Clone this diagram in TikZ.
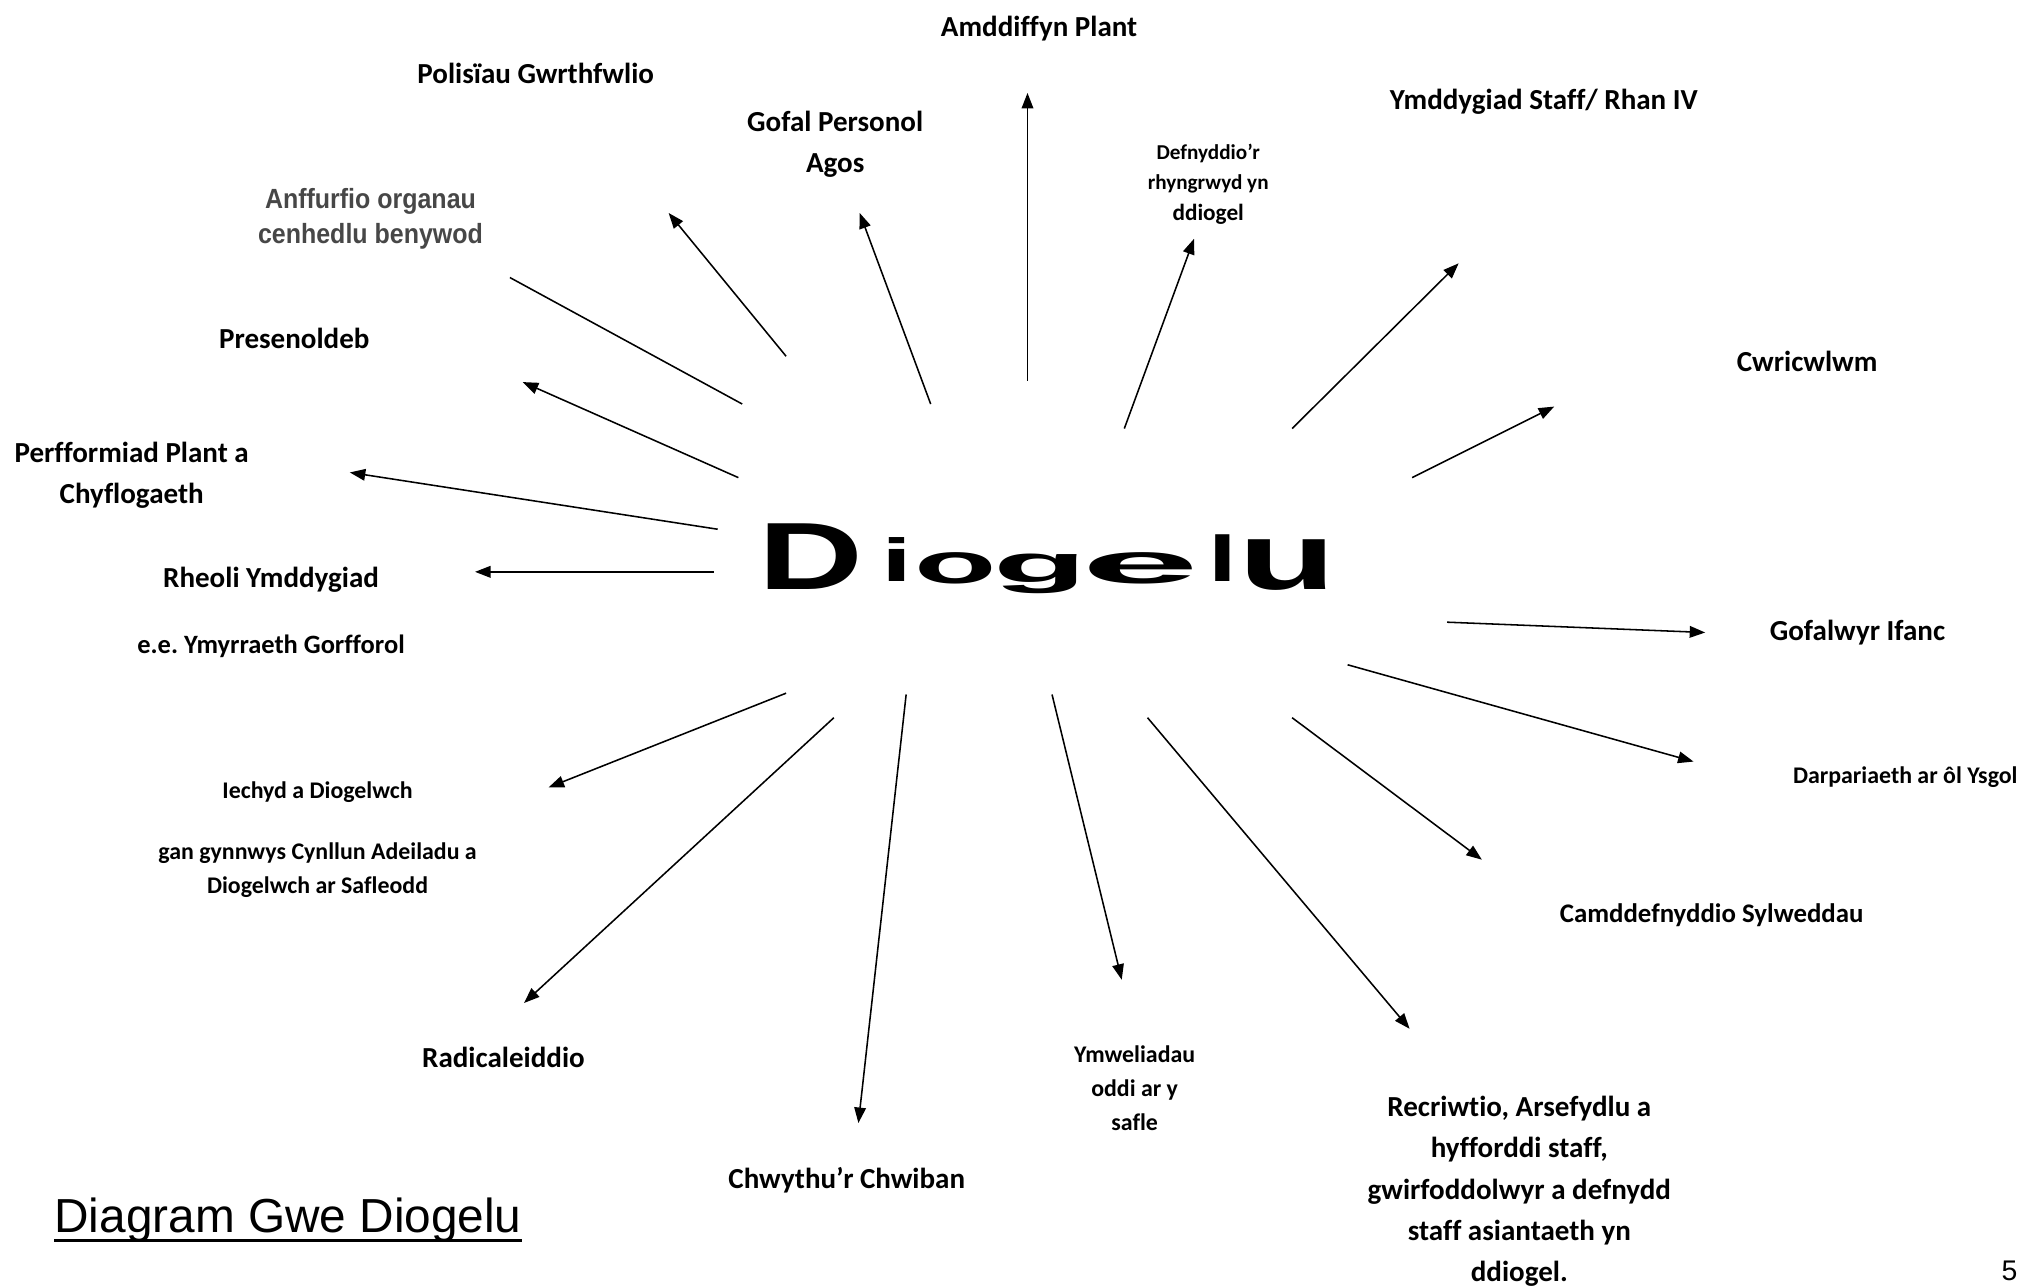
\documentclass[tikz,border=0pt]{standalone}
\usepackage{fontspec}
\usetikzlibrary{arrows.meta,calc}
\newfontfamily\calib[Ligatures=NoCommon]{Carlito}
\newfontfamily\arial{Liberation Sans}
\newfontfamily\anffont[FakeStretch=0.9]{Liberation Sans}
\newcommand\WA[4]{\makebox[0pt]{\raisebox{#3pt}{\scalebox{#1}[#2]{#4}}}}
\frenchspacing
\begin{document}
\begin{tikzpicture}[x=1pt,y=-1pt,
  lbl/.style={font={\calib\bfseries\fontsize{22.5}{32}\selectfont},align=center,inner sep=0pt},
  sml/.style={font={\calib\bfseries\fontsize{18.5}{26}\selectfont},align=center,inner sep=0pt},
  arr/.style={line width=1.2pt,-{Triangle[length=12pt,width=9pt]}},
  ln/.style={line width=1.2pt}]
\fill[white] (0,0) rectangle (1568,995.5);
\useasboundingbox (0,0) rectangle (1568,995.5);

% central word
\node[inner sep=0pt,anchor=base west] (dio) at (594,452)
 {\arial\bfseries\fontsize{50}{50}\selectfont\hspace*{34pt}\WA{2.25}{1.48}{-5}{D}\hspace*{67pt}\WA{1.73}{0.94}{1.5}{i}\hspace*{45pt}\WA{2.09}{0.89}{0}{o}\hspace*{66pt}\WA{2.38}{0.82}{1}{g}\hspace*{77.5pt}\WA{3.29}{0.89}{0}{e}\hspace*{63.5pt}\WA{1.6}{1.0}{1.4}{l}\hspace*{50.5pt}\WA{2.48}{1.46}{-5}{u}\hspace*{29.5pt}};

% labels
\node[lbl] (amd) at (805,22) {Amddiffyn Plant};
\node[lbl] (pol) at (415,57) {Polisïau Gwrthfwlio};
\node[lbl] (gof) at (647,112) {Gofal Personol\\Agos};
\node[align=center,inner sep=0pt,text=black!72,font={\anffont\bfseries\fontsize{21.5}{27}\selectfont}] (anf) at (287,169.5) {Anffurfio organau\\cenhedlu benywod};
\node[lbl] (pre) at (228,262) {Presenoldeb};
\node[lbl] (per) at (102,368) {Perfformiad Plant a\\Chyflogaeth};
\node[lbl] (rhe) at (210,449) {Rheoli Ymddygiad};
\node[lbl,font={\calib\bfseries\fontsize{20.5}{28}\selectfont}] (ee) at (210,501) {e.e. Ymyrraeth Gorfforol};
\node[sml] (iech) at (246,650.5) {Iechyd a Diogelwch\\[21pt]gan gynnwys Cynllun Adeiladu a\\Diogelwch ar Safleodd};
\node[lbl] (rad) at (390,819) {Radicaleiddio};
\node[lbl] (chw) at (656,914) {Chwythu’r Chwiban};
\node[sml] (ymw) at (879,843) {Ymweliadau\\oddi ar y\\safle};
\node[lbl] (rec) at (1177,923) {Recriwtio, Arsefydlu a\\hyfforddi staff,\\gwirfoddolwyr a defnydd\\staff asiantaeth yn\\ddiogel.};
\node[lbl,font={\calib\bfseries\fontsize{20.8}{28}\selectfont}] (cam) at (1326,709) {Camddefnyddio Sylweddau};
\node[sml] (dar) at (1476,602) {Darpariaeth ar ôl Ysgol};
\node[lbl] (gfi) at (1439,490) {Gofalwyr Ifanc};
\node[lbl] (cwr) at (1400,280) {Cwricwlwm};
\node[lbl] (yms) at (1196,79) {Ymddygiad Staff/ Rhan IV};
\node[align=center,inner sep=0pt,font={\calib\bfseries\fontsize{16.4}{23.5}\selectfont}] (def) at (936,142.5) {Defnyddio’r\\rhyngrwyd yn\\{\fontsize{18}{23.5}\selectfont ddiogel}};

\node[inner sep=0pt,anchor=base west,font={\arial\fontsize{37}{40}\selectfont}] (title) at (42,955) {Diagram Gwe Diogelu};
\draw[line width=2.6pt] ([yshift=-6pt]title.base west) -- ([yshift=-6pt]title.base east);
\node[inner sep=0pt,anchor=base east,font={\arial\fontsize{22}{24}\selectfont}] (pg) at (1563,992) {5};

% connector end points
\coordinate (s1) at (796,295);  \coordinate (e1) at (796,72);
\coordinate (s2) at (721,313);  \coordinate (e2) at (666,165);
\coordinate (s3) at (609,276);  \coordinate (e3) at (518,165);
\coordinate (s4) at (575,313);  \coordinate (e4) at (395,215);
\coordinate (s5) at (572,370);  \coordinate (e5) at (405,296);
\coordinate (s6) at (556,410);  \coordinate (e6) at (271,366);
\coordinate (s7) at (553,443);  \coordinate (e7) at (368,443);
\coordinate (s8) at (609,537);  \coordinate (e8) at (425,610);
\coordinate (s9) at (646,556);  \coordinate (e9) at (406,777);
\coordinate (s10) at (702,538); \coordinate (e10) at (665,870);
\coordinate (s11) at (815,538); \coordinate (e11) at (869,759);
\coordinate (s12) at (889,556); \coordinate (e12) at (1092,797);
\coordinate (s13) at (1001,556);\coordinate (e13) at (1148,666);
\coordinate (s14) at (1044,515);\coordinate (e14) at (1312,590);
\coordinate (s15) at (1121,482);\coordinate (e15) at (1321,490);
\coordinate (s16) at (1094,370);\coordinate (e16) at (1204,315);
\coordinate (s17) at (1001,332);\coordinate (e17) at (1130,204);
\coordinate (s18) at (871,332); \coordinate (e18) at (925,185);

\foreach \i in {1,2,3,5,6,7,8,9,10,11,12,13,14,15,16,17,18}
  \draw[arr] (s\i) -- (e\i);
\draw[ln] (s4) -- (e4);
\end{tikzpicture}
\end{document}
